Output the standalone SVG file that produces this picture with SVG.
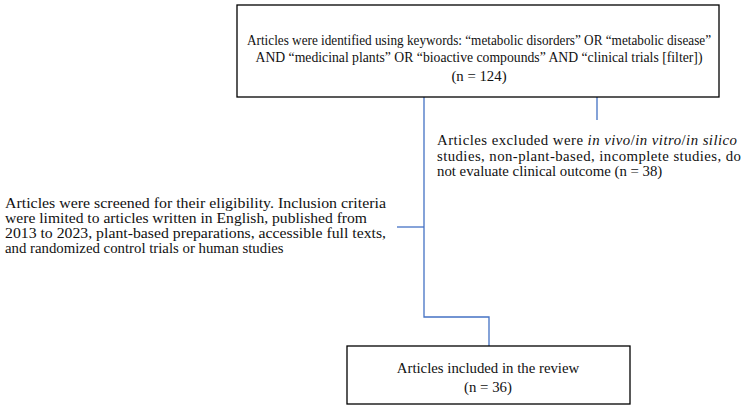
<svg xmlns="http://www.w3.org/2000/svg" width="753" height="415" viewBox="0 0 753 415">
<style>
.box{fill:#fff;stroke:#000;stroke-width:1.3}
.c{fill:none;stroke:#4472c4;stroke-width:1.3}
text{font-family:"Liberation Serif",serif;font-size:14.8px;fill:#111}
.m{text-anchor:middle}
</style>
<rect width="753" height="415" fill="#fff"/>
<g id="connectors">
<path class="c" d="M424,97 V317 H489 V346"/>
<path class="c" d="M424,96 H597 V120"/>
<path class="c" d="M397,227 H424"/>
</g>
<g id="identified">
<rect class="box" x="237" y="5" width="482" height="92"/>
<text class="m" x="479" y="45" textLength="464" lengthAdjust="spacingAndGlyphs">Articles were identified using keywords: “metabolic disorders” OR “metabolic disease”</text>
<text class="m" x="479" y="62" textLength="447" lengthAdjust="spacingAndGlyphs">AND “medicinal plants” OR “bioactive compounds” AND “clinical trials [filter])</text>
<text class="m" x="479" y="81">(n = 124)</text>
</g>
<g id="excluded">
<text x="437" y="145" textLength="300">Articles excluded were <tspan font-style="italic">in vivo</tspan>/<tspan font-style="italic">in vitro</tspan>/<tspan font-style="italic">in silico</tspan></text>
<text x="437" y="161" textLength="304">studies, non-plant-based, incomplete studies, do</text>
<text x="437" y="176">not evaluate clinical outcome (n = 38)</text>
</g>
<g id="screened">
<text x="5" y="208" textLength="381" lengthAdjust="spacingAndGlyphs">Articles were screened for their eligibility. Inclusion criteria</text>
<text x="5" y="223" textLength="362" lengthAdjust="spacingAndGlyphs">were limited to articles written in English, published from</text>
<text x="5" y="238" textLength="381" lengthAdjust="spacingAndGlyphs">2013 to 2023, plant-based preparations, accessible full texts,</text>
<text x="5" y="253">and randomized control trials or human studies</text>
</g>
<g id="included">
<rect class="box" x="347" y="346" width="283" height="58"/>
<text class="m" x="488" y="373" font-size="16">Articles included in the review</text>
<text class="m" x="488" y="392" font-size="16">(n = 36)</text>
</g>
</svg>
